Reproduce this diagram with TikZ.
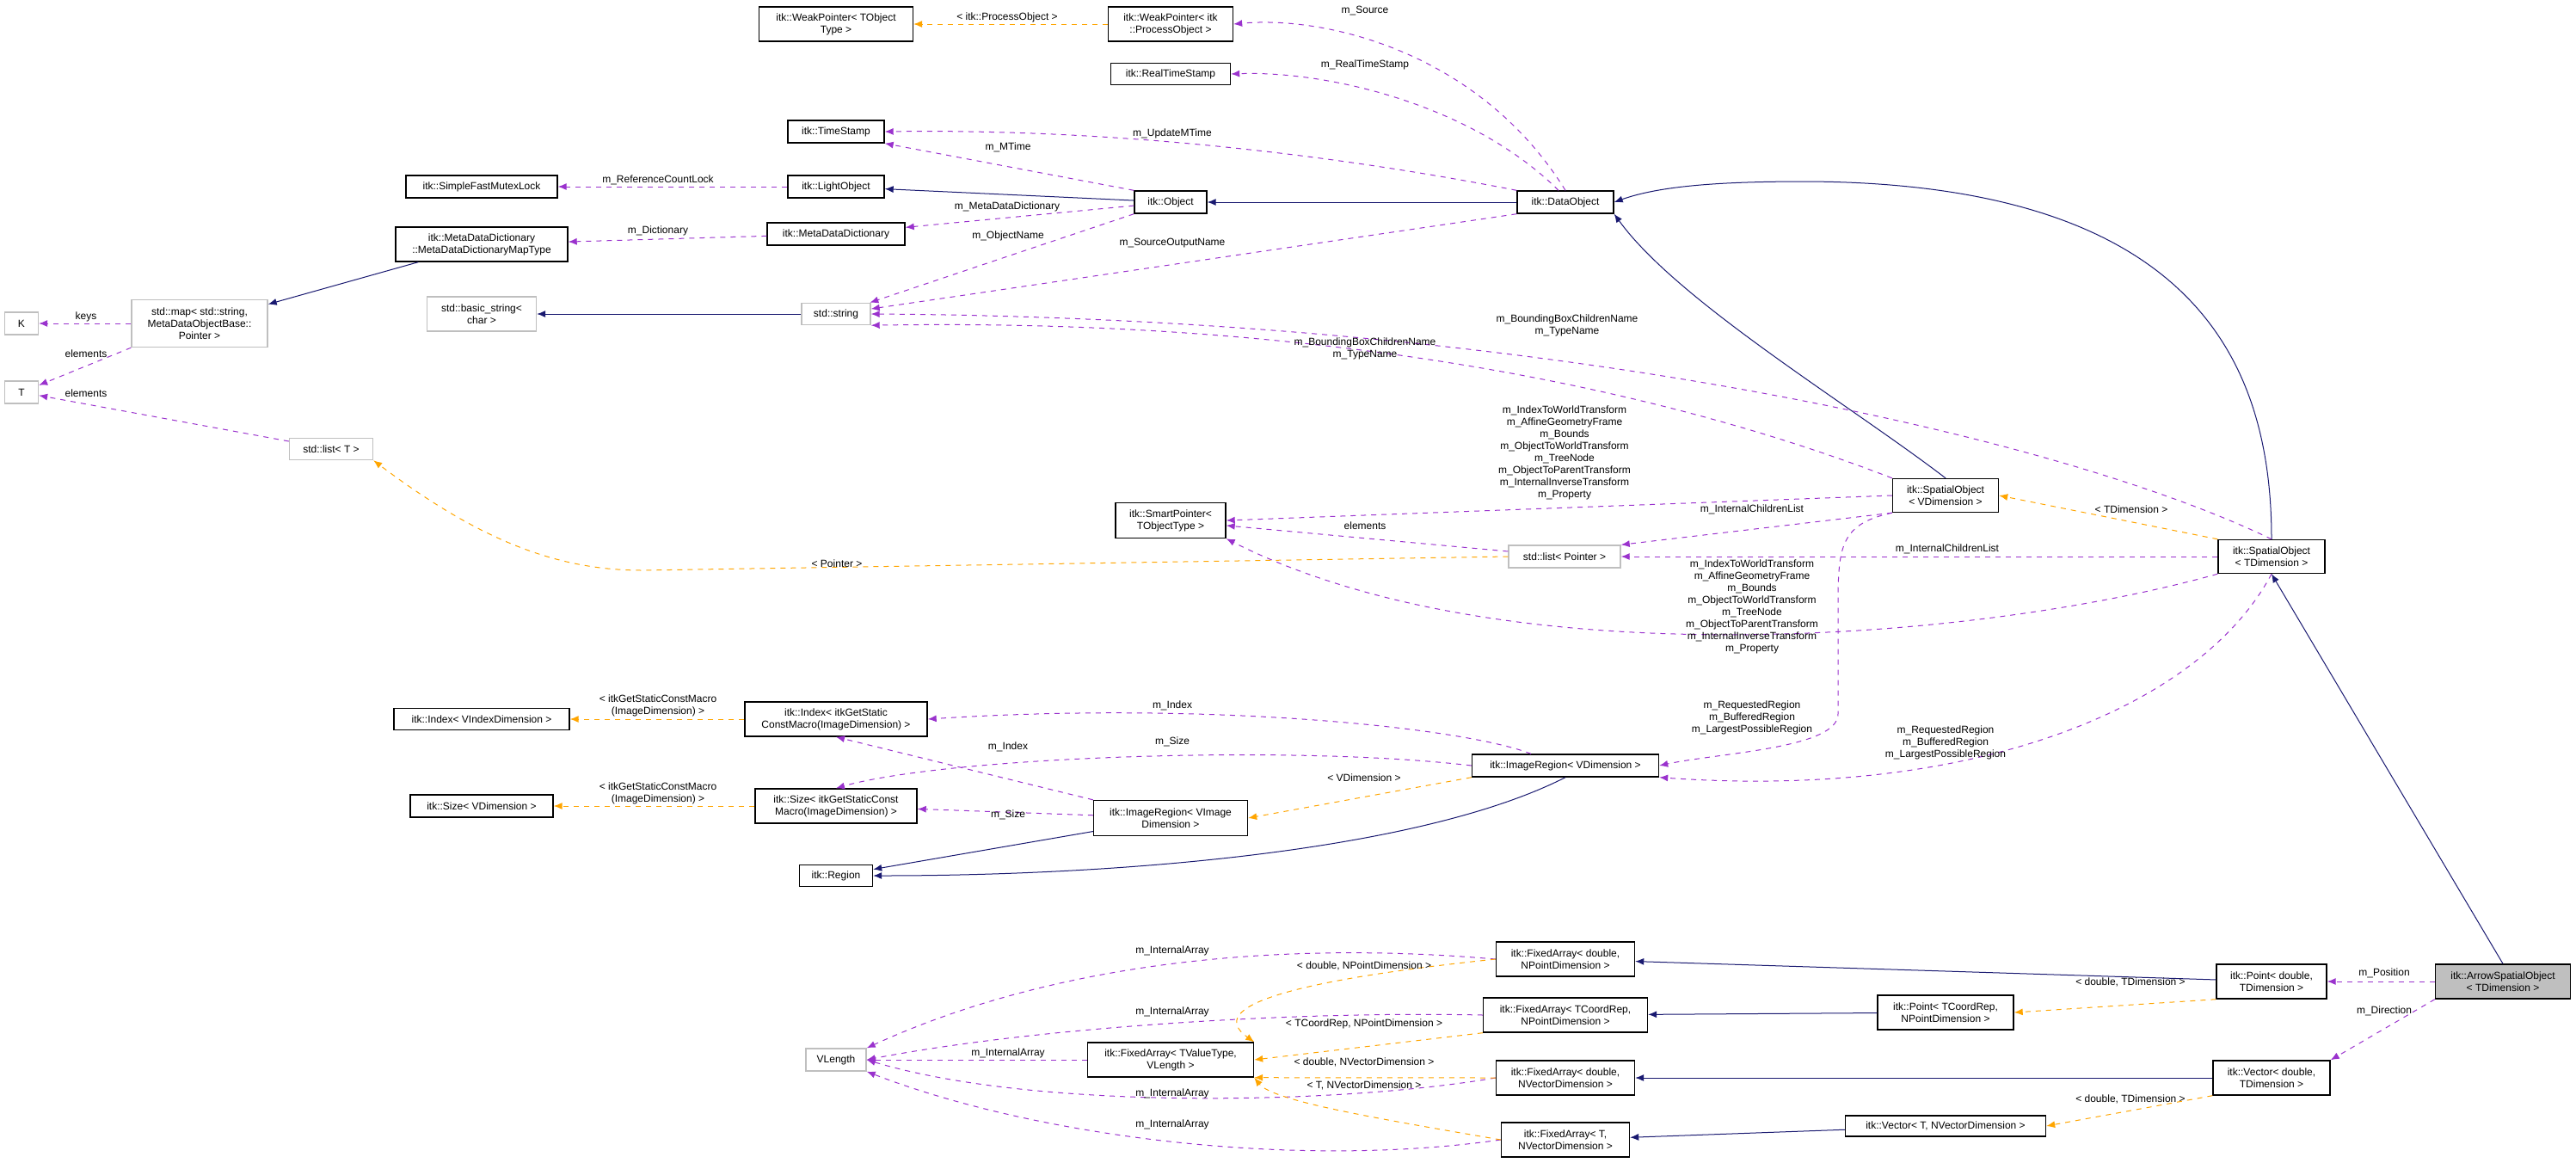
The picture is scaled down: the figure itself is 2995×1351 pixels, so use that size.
\documentclass[tikz,border=0pt]{standalone}
\usepackage{fontspec}
\setmainfont{Liberation Sans}
\usetikzlibrary{arrows.meta}
\definecolor{pu}{HTML}{9A32CD}
\definecolor{og}{HTML}{FFA500}
\definecolor{nv}{HTML}{191970}
\definecolor{gr}{HTML}{BFBFBF}
\newcommand\nd[7]{\node[#1,minimum width=#5*0.5pt,minimum height=#6*0.5pt] (#2) at (#3,#4) {#7};}
\begin{document}
\begin{tikzpicture}[x=0.5pt,y=-0.5pt,
  font=\fontsize{6}{7}\selectfont,
  box/.style={draw=black,line width=0.7pt,fill=white,inner sep=1pt,align=center},
  gbox/.style={draw=gr,line width=0.7pt,fill=white,inner sep=1pt,align=center},
  mem/.style={draw=pu,dashed,line width=0.5pt,-{Latex[length=5pt,width=4pt]}},
  tpl/.style={draw=og,dashed,line width=0.5pt,-{Latex[length=5pt,width=4pt]}},
  inh/.style={draw=nv,line width=0.5pt,-{Latex[length=5pt,width=4pt]}},
  lb/.style={inner sep=0pt,align=center}]
\useasboundingbox (0,0) rectangle (2995,1351);
% nodes
\nd{box}{wpt}{972}{28}{179}{40}{itk::WeakPointer< TObject\\Type >}
\nd{box}{wpp}{1361}{28}{145}{40}{itk::WeakPointer< itk\\::ProcessObject >}
\nd{box}{rts}{1361}{86}{139}{25}{itk::RealTimeStamp}
\nd{box}{ts}{972}{153}{112}{26}{itk::TimeStamp}
\nd{box}{sfm}{560}{217}{176}{26}{itk::SimpleFastMutexLock}
\nd{box}{lo}{972}{217}{112}{26}{itk::LightObject}
\nd{box}{obj}{1361}{235}{84}{26}{itk::Object}
\nd{box}{dobj}{1820}{235}{112}{26}{itk::DataObject}
\nd{box}{mdt}{560}{284}{200}{40}{itk::MetaDataDictionary\\::MetaDataDictionaryMapType}
\nd{box}{mdd}{972}{272}{160}{26}{itk::MetaDataDictionary}
\nd{gbox}{smap}{232}{376}{158}{55}{std::map< std::string,\\MetaDataObjectBase::\\Pointer >}
\nd{gbox}{K}{25}{376}{39}{26}{K}
\nd{gbox}{T}{25}{456}{39}{26}{T}
\nd{gbox}{bstr}{560}{365}{127}{40}{std::basic\_string<\\char >}
\nd{gbox}{str}{972}{365}{80}{25}{std::string}
\nd{gbox}{ltt}{385}{522}{97}{25}{std::list< T >}
\nd{box}{sp}{1361}{605}{128}{41}{itk::SmartPointer<\\TObjectType >}
\nd{gbox}{lp}{1819}{647}{130}{26}{std::list< Pointer >}
\nd{box}{sov}{2262}{576}{123}{39}{itk::SpatialObject\\< VDimension >}
\nd{box}{sot}{2641}{647}{124}{39}{itk::SpatialObject\\< TDimension >}
\nd{box}{ixv}{560}{836}{204}{25}{itk::Index< VIndexDimension >}
\nd{box}{ixi}{972}{836}{212}{40}{itk::Index< itkGetStatic\\ConstMacro(ImageDimension) >}
\nd{box}{szv}{560}{937}{166}{26}{itk::Size< VDimension >}
\nd{box}{szi}{972}{937}{188}{40}{itk::Size< itkGetStaticConst\\Macro(ImageDimension) >}
\nd{box}{reg}{972}{1018}{85}{25}{itk::Region}
\nd{gbox}{vl}{972}{1232}{70}{26}{VLength}
\nd{box}{irv}{1820}{890}{217}{26}{itk::ImageRegion< VDimension >}
\nd{box}{iri}{1361}{951}{179}{41}{itk::ImageRegion< VImage\\Dimension >}
\nd{box}{fadp}{1820}{1115}{161}{40}{itk::FixedArray< double,\\NPointDimension >}
\nd{box}{fatc}{1820}{1180}{191}{40}{itk::FixedArray< TCoordRep,\\NPointDimension >}
\nd{box}{fatv}{1361}{1232}{193}{40}{itk::FixedArray< TValueType,\\VLength >}
\nd{box}{fadv}{1820}{1253}{161}{40}{itk::FixedArray< double,\\NVectorDimension >}
\nd{box}{fatn}{1820}{1325}{149}{40}{itk::FixedArray< T,\\NVectorDimension >}
\nd{box}{ptd}{2641}{1141}{128}{40}{itk::Point< double,\\TDimension >}
\nd{box,fill=gr}{aso}{2910}{1141}{157}{40}{itk::ArrowSpatialObject\\< TDimension >}
\nd{box}{ptc}{2262}{1177}{158}{40}{itk::Point< TCoordRep,\\NPointDimension >}
\nd{box}{vcd}{2641}{1253}{136}{40}{itk::Vector< double,\\TDimension >}
\nd{box}{vct}{2262}{1309}{233}{24}{itk::Vector< T, NVectorDimension >}
% inheritance
\draw[inh] (obj) -- (lo);
\draw[inh] (dobj) -- (obj);
\draw[inh] (sov.north) .. controls (2150,470) and (1950,350) .. (dobj.south east);
\draw[inh] (sot.north) .. controls (2641,420) and (2550,213) .. (2100,211) .. controls (2000,211) and (1930,216) .. (dobj.east);
\draw[inh] (aso.north) -- (sot.south);
\draw[inh] (mdt) -- (smap);
\draw[inh] (str) -- (bstr);
\draw[inh] (iri) -- (reg);
\draw[inh] (irv.south) .. controls (1650,990) and (1300,1018) .. (reg.east);
\draw[inh] (ptd) -- (fadp);
\draw[inh] (ptc) -- (fatc);
\draw[inh] (vcd) -- (fadv);
\draw[inh] (vct) -- (fatn);
% members
\draw[mem] (dobj.north) .. controls (1720,60) and (1540,18) .. (wpp.east);
\draw[mem] ([xshift=-4pt]dobj.north) .. controls (1710,120) and (1540,82) .. (rts.east);
\draw[mem] (dobj.north west) .. controls (1500,170) and (1250,150) .. (ts.east);
\draw[mem] (obj.north west) -- (ts.south east);
\draw[mem] (lo) -- (sfm);
\draw[mem] (obj) -- (mdd);
\draw[mem] (mdd) -- (mdt);
\draw[mem] (smap) -- (K);
\draw[mem] (smap.south west) -- (T);
\draw[mem] (ltt) -- (T);
\draw[mem] (obj.south west) -- (str);
\draw[mem] (dobj.south west) -- (str);
\draw[mem] (sot.north) .. controls (2400,510) and (1800,370) .. (str.east);
\draw[mem] (sov.north west) .. controls (1900,440) and (1500,370) .. (str.south east);
\draw[mem] (sov.west) -- (sp.east);
\draw[mem] (sov.south west) -- (lp.north east);
\draw[mem] (lp) -- (sp);
\draw[mem] (sot) -- (lp);
\draw[mem] (sot.south west) .. controls (2300,745) and (1750,790) .. (sp.south east);
\draw[mem] (sov.south west) .. controls (2135,610) and (2137,640) .. (2137,720) -- (2137,830) .. controls (2137,870) and (2000,875) .. (irv.east);
\draw[mem] (sot.south) .. controls (2560,820) and (2300,930) .. (irv.south east);
\draw[mem] ([xshift=-20pt]irv.north) .. controls (1700,845) and (1400,815) .. (ixi.east);
\draw[mem] (irv.west) .. controls (1500,865) and (1100,880) .. (szi.north);
\draw[mem] (iri.north west) -- (ixi.south);
\draw[mem] (iri) -- (szi);
\draw[mem] (fadp.west) .. controls (1450,1090) and (1200,1130) .. (vl.north east);
\draw[mem] (fatc.west) .. controls (1500,1175) and (1200,1195) .. (vl.east);
\draw[mem] (fatv) -- (vl);
\draw[mem] (fadv.west) .. controls (1550,1285) and (1200,1290) .. (vl.east);
\draw[mem] (fatn.west) .. controls (1500,1360) and (1200,1320) .. (vl.south east);
\draw[mem] (aso) -- (ptd);
\draw[mem] (aso.south west) -- (vcd.north east);
% templates
\draw[tpl] (wpp) -- (wpt);
\draw[tpl] (lp.west) -- (747,663) .. controls (650,663) and (560,630) .. (ltt.south east);
\draw[tpl] (sot.north west) -- (sov.east);
\draw[tpl] (ixi) -- (ixv);
\draw[tpl] (szi) -- (szv);
\draw[tpl] (irv.south west) -- (iri.east);
\draw[tpl] (fadp.west) .. controls (1500,1140) and (1400,1170) .. (fatv.north east);
\draw[tpl] (fatc.south west) -- (fatv.east);
\draw[tpl] (fadv.west) -- (fatv.south east);
\draw[tpl] (fatn.west) .. controls (1600,1300) and (1480,1280) .. (fatv.south east);
\draw[tpl] (ptd.south west) -- (ptc.east);
\draw[tpl] (vcd.south west) -- (vct.east);
% labels
\node[lb] (a1) at (1587,12) {m\_Source};
\node[lb] (a2) at (1587,75) {m\_RealTimeStamp};
\node[lb] (a3) at (1363,155) {m\_UpdateMTime};
\node[lb] (a4) at (1172,171) {m\_MTime};
\node[lb] (a5) at (1171,240) {m\_MetaDataDictionary};
\node[lb] (a6) at (1172,274) {m\_ObjectName};
\node[lb] (a7) at (1363,283) {m\_SourceOutputName};
\node[lb] (a8) at (1822,378) {m\_BoundingBoxChildrenName\\m\_TypeName};
\node[lb] (a9) at (1587,405) {m\_BoundingBoxChildrenName\\m\_TypeName};
\node[lb] (a10) at (1819,526) {m\_IndexToWorldTransform\\m\_AffineGeometryFrame\\m\_Bounds\\m\_ObjectToWorldTransform\\m\_TreeNode\\m\_ObjectToParentTransform\\m\_InternalInverseTransform\\m\_Property};
\node[lb] (a11) at (2037,592) {m\_InternalChildrenList};
\node[lb] (a12) at (1587,611) {elements};
\node[lb] (a13) at (765,209) {m\_ReferenceCountLock};
\node[lb] (a14) at (765,268) {m\_Dictionary};
\node[lb] (a15) at (100,368) {keys};
\node[lb] (a16) at (100,411) {elements};
\node[lb] (a17) at (100,457) {elements};
\node[lb] (a18) at (1171,20) {< itk::ProcessObject >};
\node[lb] (a19) at (973,655) {< Pointer >};
\node[lb] (a20) at (765,820) {< itkGetStaticConstMacro\\(ImageDimension) >};
\node[lb] (a21) at (765,922) {< itkGetStaticConstMacro\\(ImageDimension) >};
\node[lb] (a22) at (1363,820) {m\_Index};
\node[lb] (a23) at (1172,868) {m\_Index};
\node[lb] (a24) at (1363,862) {m\_Size};
\node[lb] (a25) at (1172,947) {m\_Size};
\node[lb] (a26) at (1586,904) {< VDimension >};
\node[lb] (a27) at (2037,834) {m\_RequestedRegion\\m\_BufferedRegion\\m\_LargestPossibleRegion};
\node[lb] (a28) at (2262,863) {m\_RequestedRegion\\m\_BufferedRegion\\m\_LargestPossibleRegion};
\node[lb] (a29) at (2037,705) {m\_IndexToWorldTransform\\m\_AffineGeometryFrame\\m\_Bounds\\m\_ObjectToWorldTransform\\m\_TreeNode\\m\_ObjectToParentTransform\\m\_InternalInverseTransform\\m\_Property};
\node[lb] (a30) at (2478,592) {< TDimension >};
\node[lb] (a31) at (2264,638) {m\_InternalChildrenList};
\node[lb] (a32) at (1363,1105) {m\_InternalArray};
\node[lb] (a33) at (1586,1123) {< double, NPointDimension >};
\node[lb] (a34) at (1363,1176) {m\_InternalArray};
\node[lb] (a35) at (1586,1190) {< TCoordRep, NPointDimension >};
\node[lb] (a36) at (1172,1224) {m\_InternalArray};
\node[lb] (a37) at (1586,1235) {< double, NVectorDimension >};
\node[lb] (a38) at (1586,1262) {< T, NVectorDimension >};
\node[lb] (a39) at (1363,1271) {m\_InternalArray};
\node[lb] (a40) at (1363,1307) {m\_InternalArray};
\node[lb] (a41) at (2772,1131) {m\_Position};
\node[lb] (a42) at (2772,1175) {m\_Direction};
\node[lb] (a43) at (2477,1142) {< double, TDimension >};
\node[lb] (a44) at (2477,1278) {< double, TDimension >};
\end{tikzpicture}
\end{document}
